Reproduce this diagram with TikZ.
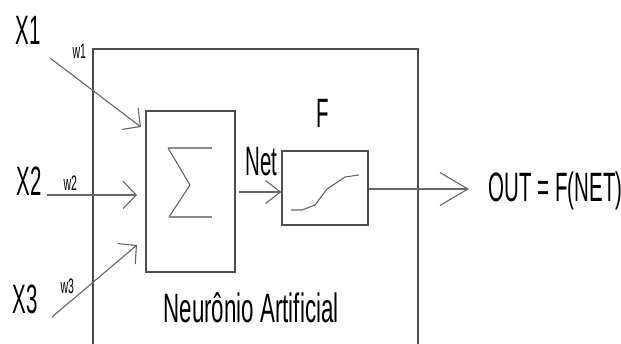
\documentclass[tikz,border=0pt]{standalone}
\usepackage{fontspec}
\setmainfont{Liberation Sans}[FakeStretch=0.5]
\newfontfamily\captionfont{Liberation Sans}[FakeStretch=0.545]
\usetikzlibrary{arrows.meta}
\begin{document}
\begin{tikzpicture}[x=1pt,y=-1pt,
  line width=1.1pt,
  wire/.style={draw=black!60},
  frame/.style={draw=black!70, line width=1.2pt},
  label/.style={inner sep=0pt, anchor=base west, font=\fontsize{41}{41}\selectfont},
  weight/.style={inner sep=0pt, anchor=base west, font=\fontsize{21}{21}\selectfont},
  intip/.style={-{Straight Barb[length=13pt,width=27pt]}},
  nettip/.style={-{Straight Barb[length=15pt,width=23pt]}},
  outtip/.style={-{Straight Barb[length=28pt,width=33pt]}},
  block/.style={frame, inner sep=0pt, fill=none}]
\useasboundingbox (0,0) rectangle (621,343);

% outer neuron frame, open at the bottom
\draw[frame] (93,345) -- (93,49) -- (418,49) -- (418,345);

% summation and activation blocks
\node[block, minimum width=89pt, minimum height=161pt] (sum) at (190.5,191.5) {};
\node[block, minimum width=86pt, minimum height=74pt] (act) at (325,188) {};

% sigma sign
\draw[wire, black!45] (168,148) -- (212,148);
\draw[wire] (168,148) -- (190,185) -- (169,217);
\draw[wire, black!45] (169,217) -- (212,217);

% sigmoid curve
\draw[wire] (291,210) -- (302,210) -- (315,205) -- (327,189) -- (345,177) -- (359,175);

% inputs
\node[label] (x1) at (15,44) {X1};
\node[label] (x2) at (16,195) {X2};
\node[label] (x3) at (12,313) {X3};
\node[weight] (w1) at (72,58) {w1};
\node[weight] (w2) at (63,190) {w2};
\node[weight] (w3) at (60,293) {w3};

\coordinate (s1) at (50,58);
\coordinate (t1) at (141,127);
\coordinate (s2) at (47,195);
\coordinate (t2) at (137,195);
\coordinate (s3) at (52,317);
\coordinate (t3) at (137,245);
\draw[wire, intip] (s1) -- (t1);
\draw[wire, intip] (s2) -- (t2);
\draw[wire, intip] (s3) -- (t3);

% net signal into the activation block
\coordinate (n0) at (239,192);
\draw[wire, nettip] (n0) -- (act.west |- n0);
\node[label] (net) at (245,175) {Net};
\node[label] (f) at (316,127) {F};

% output
\coordinate (o1) at (469,189);
\draw[wire, outtip] (act.east |- o1) -- (o1);
\node[label] (out) at (488,201) {OUT = F(NET)};

\node[label, font=\captionfont\fontsize{41}{41}\selectfont] (name) at (163,322) {Neurônio Artificial};
\end{tikzpicture}
\end{document}
